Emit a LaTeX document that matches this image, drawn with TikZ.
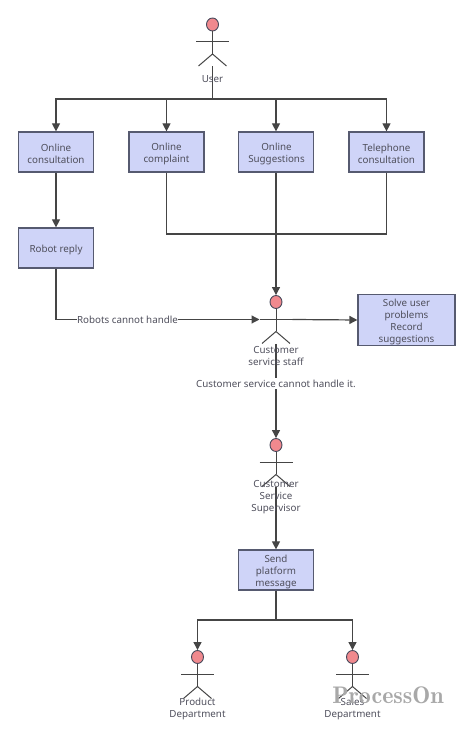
\documentclass[tikz,border=0pt]{standalone}
\usepackage{fontspec}
\setmainfont{Noto Sans}
\usetikzlibrary{arrows.meta,shapes.geometric}
\definecolor{POFill}{HTML}{CFD4F8}
\definecolor{POEdge}{HTML}{565A70}
\definecolor{POLine}{HTML}{454545}
\definecolor{POHead}{HTML}{F0898E}
\definecolor{POText}{HTML}{4F4F5C}
\definecolor{POMark}{HTML}{A8A8A8}
\tikzset{
  stagebox/.style={draw=POEdge,fill=POFill,line width=1.2pt,minimum width=75pt,minimum height=40pt,inner sep=0pt},
  caption/.style={align=center,inner sep=0pt,text=POText,font=\fontsize{9.8}{12}\selectfont},
  flowlabel/.style={caption,fill=white,inner ysep=2pt},
  flow/.style={POLine,line width=1.2pt,-{Triangle[length=8pt,width=8pt]}},
  plain/.style={POLine,line width=1.2pt},
  stick/.style={POLine,line width=1pt},
  pics/actor/.style={code={
    \node[ellipse,draw=POEdge!80!black,fill=POHead,line width=0.9pt,minimum width=12pt,minimum height=13pt,inner sep=0pt] (-head) at (0,0) {};
    \coordinate (-armL) at (-16.5,-17.5);
    \coordinate (-armR) at (16.5,-17.5);
    \coordinate (-hip) at (0,-29.5);
    \coordinate (-foot) at (0,-42);
    \draw[stick] (-head) -- (-hip);
    \draw[stick] (-armL) -- (-armR);
    \draw[stick] (-14,-41.5) -- (-hip) -- (14,-41.5);
  }}
}
\begin{document}
\begin{tikzpicture}[x=1pt,y=1pt]
\path[use as bounding box] (0,0) rectangle (474,739);
% actors
\pic (user) at (212.5,714.5) {actor};
\pic (staff) at (276,437) {actor};
\pic (super) at (276,294) {actor};
\pic (product) at (197.5,82) {actor};
\pic (sales) at (352.5,82) {actor};
% boxes
\node[stagebox] (consult) at (56,587) {};
\node[stagebox] (complaint) at (166.5,587) {};
\node[stagebox] (suggest) at (276,587) {};
\node[stagebox] (phone) at (386.5,587) {};
\node[stagebox] (robot) at (56,491) {};
\node[stagebox,minimum width=97pt,minimum height=51pt] (solve) at (406.5,419) {};
\node[stagebox] (send) at (276,169) {};
\node[caption] (consulttext) at (56,585) {Online\\consultation};
\node[caption] (complainttext) at (166.5,585) {Online\\complaint};
\node[caption] (suggesttext) at (276.5,585) {Online\\Suggestions};
\node[caption] (phonetext) at (386.5,585) {Telephone\\consultation};
\node[caption] (robottext) at (56,489.5) {Robot reply};
\node[caption] (solvetext) at (406.5,417) {Solve user\\problems\\Record\\suggestions};
\node[caption] (sendtext) at (276,167) {Send\\platform\\message};
\coordinate (fork) at (212.5,640);
\coordinate (merge) at (276,505);
\coordinate (split) at (276,119);
% connectors
\draw[plain] (user-foot) -- (fork);
\draw[flow] (fork) -| (consult.north);
\draw[flow] (fork) -| (complaint.north);
\draw[flow] (fork) -| (suggest.north);
\draw[flow] (fork) -| (phone.north);
\draw[flow] (consult) -- (robot);
\draw[plain] (complaint.south) |- (merge);
\draw[plain] (phone.south) |- (merge);
\draw[flow] (suggest.south) -- (staff-head.north);
\draw[flow] (robot.south) |- (staff-armL);
\draw[flow] (staff-armR) -- (solve.west);
\draw[flow] (staff-foot) -- (super-head.north);
\draw[flow] (super-foot) -- (send.north);
\draw[plain] (send.south) -- (split);
\draw[flow] (split) -| (product-head.north);
\draw[flow] (split) -| (sales-head.north);
% labels
\node[flowlabel] (robotnote) at (127.5,419) {Robots cannot handle};
\node[flowlabel] (staffnote) at (276,355.5) {Customer service cannot handle it.};
\node[caption] (userlabel) at (212.5,659.5) {User};
\node[caption] (stafflabel) at (276,383) {Customer\\service staff};
\node[caption] (superlabel) at (276,242) {Customer\\Service\\Supervisor};
\node[caption] (productlabel) at (197.5,30) {Product\\Department};
\node[caption] (saleslabel) at (352.5,30) {Sales\\Department};
% watermark
\node[text=POMark,inner sep=0pt,font=\fontfamily{lmr}\fontsize{24}{24}\bfseries\selectfont] (mark) at (388,44) {ProcessOn};
\end{tikzpicture}
\end{document}
